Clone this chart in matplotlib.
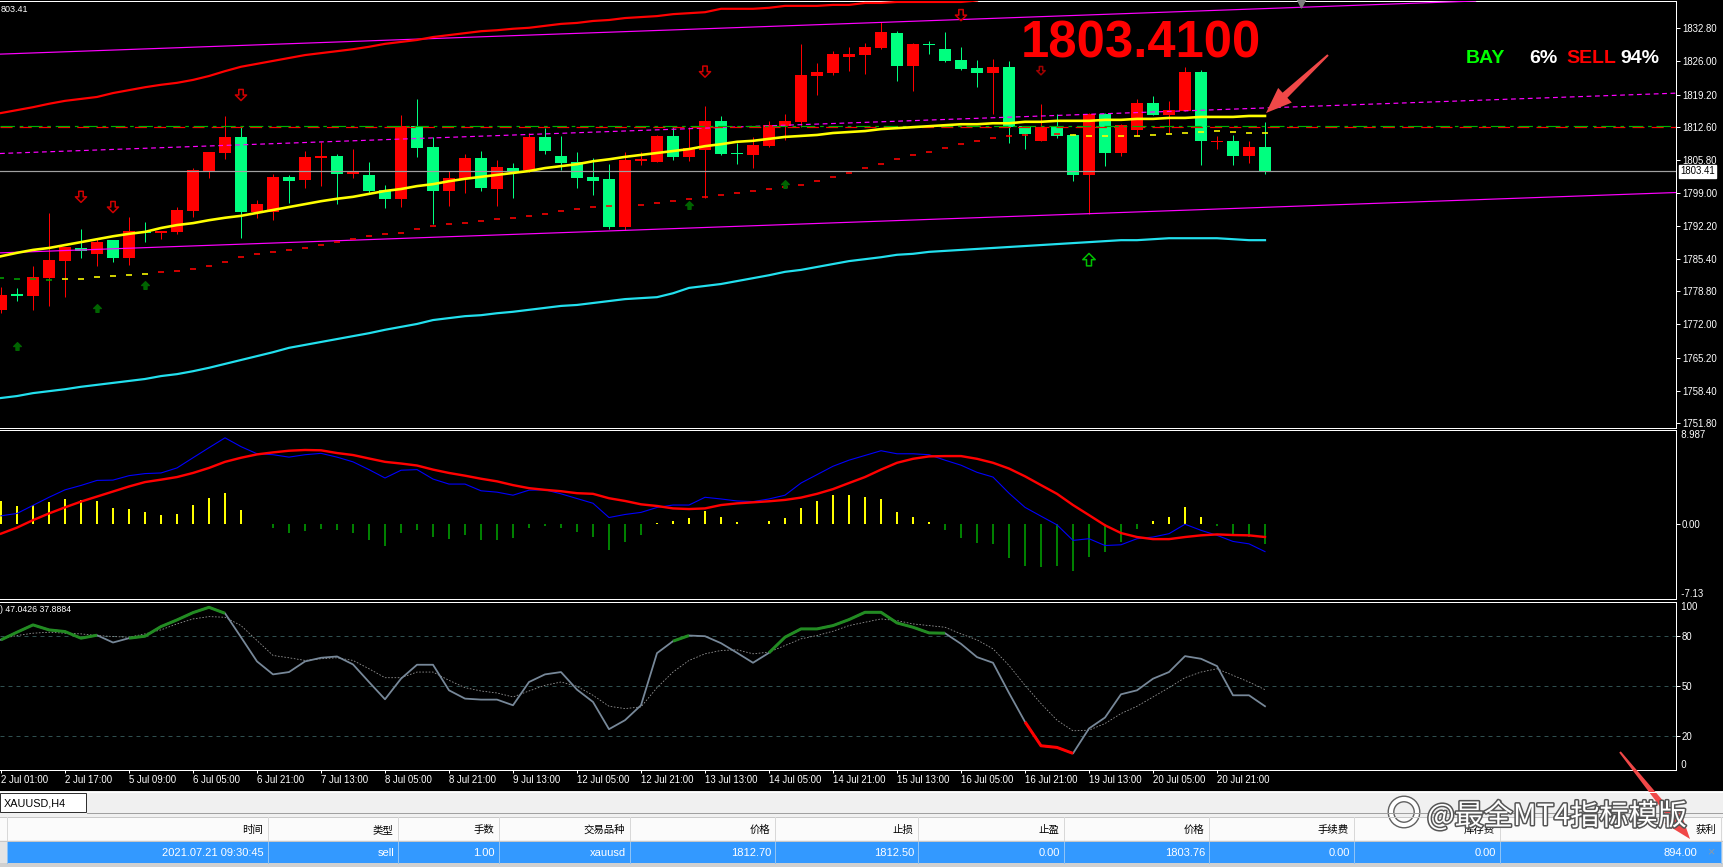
import matplotlib
matplotlib.use('Agg')
import matplotlib.pyplot as plt
import numpy as np
from matplotlib.path import Path
from matplotlib.patches import Rectangle, Polygon, Circle
import matplotlib.patheffects as pe
import matplotlib.transforms as mtrans

plt.rcParams['font.family'] = ['Liberation Sans', 'Noto Sans CJK SC', 'DejaVu Sans']

# ---------------- DATA ----------------
opens = [1775.0, 1778.1, 1777.9, 1781.6, 1785.0, 1787.6, 1786.5, 1789.3, 1785.7, 1791.0,
         1790.8, 1791.0, 1795.3, 1803.5, 1807.2, 1810.5, 1795.1, 1795.1, 1802.3, 1801.7,
         1806.2, 1806.6, 1802.9, 1802.7, 1799.6, 1797.7, 1812.7, 1808.4, 1799.4, 1801.9,
         1806.1, 1799.8, 1804.2, 1803.7, 1810.5, 1806.6, 1805.3, 1802.3, 1801.8, 1792.1,
         1805.6, 1805.4, 1810.7, 1806.4, 1807.9, 1813.7, 1807.2, 1806.8, 1808.6, 1812.8,
         1813.6, 1823.0, 1823.6, 1826.9, 1827.3, 1828.7, 1831.8, 1825.1, 1829.6, 1828.5,
         1826.2, 1824.6, 1823.6, 1824.8, 1812.7, 1809.6, 1812.5, 1810.9, 1802.7, 1815.2,
         1807.2, 1811.9, 1817.4, 1815.0, 1815.8, 1823.8, 1809.6, 1809.6, 1806.6, 1808.4]
highs = [1779.7, 1779.5, 1784.0, 1794.8, 1787.8, 1791.6, 1789.7, 1789.3, 1794.0, 1793.0,
         1791.2, 1796.1, 1804.1, 1807.4, 1814.8, 1812.6, 1797.5, 1802.9, 1802.7, 1807.6,
         1809.5, 1807.0, 1808.0, 1805.3, 1800.6, 1815.0, 1818.2, 1810.4, 1803.5, 1807.0,
         1807.6, 1805.7, 1805.1, 1811.2, 1812.4, 1810.7, 1807.4, 1806.1, 1804.9, 1807.4,
         1807.4, 1810.9, 1812.6, 1812.6, 1816.8, 1814.8, 1809.3, 1810.4, 1813.7, 1815.2,
         1829.5, 1825.6, 1828.1, 1828.9, 1829.7, 1834.0, 1832.2, 1829.7, 1830.1, 1832.0,
         1828.9, 1826.2, 1826.4, 1826.0, 1812.7, 1817.2, 1815.2, 1811.1, 1815.4, 1815.4,
         1813.1, 1818.2, 1818.9, 1817.8, 1824.8, 1824.2, 1810.7, 1810.9, 1809.6, 1813.5]
lows = [1774.4, 1776.9, 1775.0, 1775.7, 1777.7, 1785.7, 1784.1, 1784.9, 1784.2, 1788.9,
        1789.6, 1790.6, 1794.1, 1802.1, 1805.9, 1789.8, 1793.9, 1793.5, 1797.0, 1800.1,
        1800.5, 1796.8, 1802.1, 1798.9, 1796.0, 1796.2, 1806.4, 1792.6, 1796.3, 1799.0,
        1799.4, 1796.3, 1798.0, 1803.3, 1806.9, 1803.8, 1800.0, 1798.6, 1791.6, 1791.4,
        1804.7, 1805.4, 1805.7, 1805.6, 1798.0, 1806.8, 1804.9, 1804.1, 1808.4, 1809.8,
        1812.6, 1819.1, 1823.2, 1824.0, 1823.4, 1828.5, 1821.9, 1819.9, 1827.5, 1825.8,
        1824.2, 1820.7, 1815.2, 1809.2, 1808.0, 1809.6, 1810.2, 1801.4, 1794.7, 1804.5,
        1806.6, 1810.7, 1815.0, 1811.3, 1815.8, 1804.7, 1808.0, 1804.7, 1805.1, 1802.9]
closes = [1778.1, 1778.0, 1781.8, 1785.2, 1787.8, 1787.1, 1789.0, 1785.7, 1791.2, 1790.7,
          1791.2, 1795.5, 1803.7, 1807.4, 1810.5, 1795.1, 1796.7, 1802.3, 1801.5, 1806.4,
          1806.6, 1802.9, 1803.3, 1799.4, 1797.8, 1812.7, 1808.3, 1799.4, 1802.0, 1806.1,
          1800.1, 1804.3, 1803.5, 1810.5, 1807.6, 1805.2, 1802.1, 1801.5, 1792.1, 1805.8,
          1805.9, 1810.7, 1806.4, 1808.2, 1813.7, 1807.0, 1807.1, 1808.8, 1812.9, 1813.7,
          1823.2, 1823.8, 1827.5, 1827.5, 1828.9, 1832.0, 1825.1, 1829.5, 1829.5, 1826.0,
          1824.4, 1823.6, 1824.8, 1812.5, 1811.1, 1812.5, 1810.7, 1802.7, 1815.2, 1807.2,
          1812.9, 1817.4, 1815.0, 1816.0, 1823.8, 1809.6, 1809.7, 1806.6, 1808.4, 1803.41]

# upper red band (bars 0..61)
red_band = [1815.4, 1816.0, 1816.6, 1817.3, 1817.9, 1818.3, 1818.7, 1819.5, 1820.1, 1820.7,
            1821.2, 1821.6, 1822.2, 1823.0, 1824.0, 1824.9, 1825.5, 1826.1, 1826.7, 1827.3,
            1827.7, 1828.1, 1828.5, 1829.0, 1829.6, 1830.0, 1830.4, 1831.0, 1831.4, 1831.8,
            1832.2, 1832.4, 1832.7, 1832.9, 1833.3, 1833.7, 1833.9, 1834.3, 1834.5, 1834.9,
            1835.1, 1835.3, 1835.7, 1835.9, 1836.1, 1836.8, 1836.8, 1836.8, 1837.0, 1837.4,
            1837.4, 1837.4, 1837.6, 1837.6, 1838.0, 1838.0, 1838.2, 1838.2, 1838.2, 1838.2,
            1838.2, 1838.5]
# yellow moving average
yellow_ma = [1786.0, 1786.7, 1787.3, 1787.7, 1788.3, 1788.9, 1789.5, 1790.1, 1790.6, 1791.0,
             1791.8, 1792.4, 1792.8, 1793.4, 1793.9, 1794.3, 1794.9, 1795.5, 1796.1, 1796.7,
             1797.3, 1797.8, 1798.2, 1798.8, 1799.4, 1799.8, 1800.4, 1800.8, 1801.4, 1801.9,
             1802.3, 1802.7, 1803.1, 1803.5, 1804.1, 1804.5, 1804.9, 1805.5, 1805.9, 1806.4,
             1806.8, 1807.2, 1807.6, 1808.0, 1808.6, 1809.0, 1809.5, 1809.7, 1810.1, 1810.5,
             1810.7, 1810.9, 1811.3, 1811.5, 1811.7, 1812.1, 1812.3, 1812.5, 1812.7, 1812.9,
             1813.1, 1813.1, 1813.3, 1813.3, 1813.6, 1813.6, 1813.8, 1813.8, 1813.8, 1814.0,
             1814.0, 1814.2, 1814.2, 1814.4, 1814.4, 1814.6, 1814.6, 1814.6, 1814.8, 1814.8]
# lower cyan band
cyan_band = [1756.9, 1757.3, 1757.9, 1758.3, 1758.7, 1759.2, 1759.6, 1760.0, 1760.4, 1760.8,
             1761.4, 1761.8, 1762.4, 1763.1, 1763.9, 1764.7, 1765.5, 1766.3, 1767.2, 1767.8,
             1768.4, 1769.0, 1769.6, 1770.2, 1770.9, 1771.5, 1772.1, 1772.9, 1773.3, 1773.7,
             1773.9, 1774.3, 1774.6, 1775.0, 1775.4, 1775.8, 1776.0, 1776.4, 1776.8, 1777.2,
             1777.4, 1777.6, 1778.4, 1779.5, 1779.9, 1780.3, 1780.9, 1781.5, 1782.1, 1782.8,
             1783.2, 1783.8, 1784.4, 1785.0, 1785.4, 1785.8, 1786.3, 1786.5, 1786.9, 1787.1,
             1787.3, 1787.5, 1787.7, 1787.9, 1788.1, 1788.3, 1788.5, 1788.7, 1788.9, 1789.1,
             1789.3, 1789.3, 1789.5, 1789.7, 1789.7, 1789.7, 1789.7, 1789.5, 1789.3, 1789.3]
# trailing-stop dashes
trail = [1781.5, 1781.3, 1781.3, 1781.1, 1781.3, 1781.3, 1781.7, 1781.9, 1782.1, 1782.4,
         1782.8, 1783.0, 1783.4, 1784.0, 1784.8, 1785.8, 1786.5, 1786.9, 1787.3, 1787.7,
         1788.3, 1788.9, 1789.5, 1790.1, 1790.6, 1790.8, 1791.6, 1792.2, 1792.6, 1792.8,
         1793.2, 1793.6, 1793.9, 1794.3, 1794.7, 1795.3, 1795.7, 1796.1, 1796.3, 1796.4,
         1796.5, 1796.9, 1797.3, 1797.7, 1798.2, 1798.6, 1799.0, 1799.4, 1799.8, 1800.2,
         1800.6, 1801.4, 1802.3, 1803.1, 1804.1, 1804.9, 1806.0, 1806.8, 1807.4, 1808.2,
         1809.0, 1809.7, 1810.3, 1810.7, 1810.9, 1811.1, 1811.1, 1810.9, 1810.7, 1810.7,
         1810.7, 1810.7, 1810.9, 1811.1, 1811.3, 1811.5, 1811.7, 1811.5, 1811.3, 1811.3]
trail_state = ['g'] * 4 + ['y'] * 6 + ['r'] * 57 + ['y'] * 13

# regression channel anchors (bar, price)
channel_bars = [0, 104]
channel_upper = [1827.5, 1839.8]
channel_mid = [1807.1, 1819.4]
channel_lower = [1786.7, 1799.0]

bid_price = 1803.41
order_open = 1812.70
order_sl = 1812.50

down_arrow_bars = [5, 7, 15, 44, 60, 65]
down_arrow_prices = [1798.2, 1796.1, 1819.1, 1823.9, 1835.5, 1824.1]
up_arrow_bars = [1, 6, 9, 43, 49]
up_arrow_prices = [1767.6, 1775.4, 1780.0, 1796.5, 1800.8]
big_up_bar = [68]
big_up_price = [1785.3]

price_ticks = [1832.80, 1826.00, 1819.20, 1812.60, 1805.80, 1799.00, 1792.20,
               1785.40, 1778.80, 1772.00, 1765.20, 1758.40, 1751.80]

macd_hist = [2.22, 1.74, 1.83, 2.12, 2.41, 2.32, 2.22, 1.54, 1.45, 1.16,
             0.87, 0.97, 1.83, 2.51, 2.99, 1.35, 0.06, -0.35, -0.84, -0.64,
             -0.48, -0.58, -0.84, -1.51, -2.09, -0.84, -0.58, -1.22, -1.41, -1.06,
             -1.51, -1.51, -1.32, -0.35, -0.16, -0.35, -0.74, -1.22, -2.48, -1.71,
             -1.03, 0.10, 0.29, 0.58, 1.25, 0.68, 0.19, 0.06, 0.29, 0.58,
             1.54, 2.22, 2.80, 2.80, 2.61, 2.41, 1.16, 0.68, 0.19, -0.55,
             -1.32, -1.80, -1.90, -3.25, -4.02, -4.12, -4.02, -4.50, -3.15, -2.67,
             -1.71, -0.45, 0.29, 0.68, 1.64, 0.68, -0.16, -1.13, -1.22, -1.90]
macd_main = [0.80, 1.03, 1.80, 2.57, 3.28, 3.70, 4.18, 4.21, 4.63, 4.83,
             4.89, 5.37, 6.34, 7.30, 8.24, 7.40, 6.72, 6.63, 6.40, 6.63,
             6.76, 6.40, 5.95, 5.21, 4.41, 5.15, 5.21, 4.31, 3.83, 3.83,
             3.19, 3.06, 2.77, 3.25, 3.28, 2.90, 2.45, 2.00, 0.64, 0.93,
             1.13, 1.60, 1.83, 1.83, 2.57, 2.41, 2.22, 2.16, 2.41, 2.77,
             3.93, 4.73, 5.53, 6.11, 6.56, 7.01, 6.72, 6.72, 6.63, 6.11,
             5.63, 4.95, 4.50, 2.96, 1.61, 0.77, -0.06, -1.54, -1.38, -2.03,
             -1.96, -1.38, -1.22, -0.90, 0.00, -0.58, -1.06, -1.64, -1.87, -2.61]
macd_signal = [-0.90, -0.32, 0.39, 1.03, 1.61, 2.16, 2.64, 3.12, 3.60, 4.02,
               4.25, 4.50, 4.89, 5.37, 5.95, 6.34, 6.66, 6.85, 7.01, 7.08,
               7.05, 6.79, 6.60, 6.27, 5.95, 5.79, 5.60, 5.21, 4.89, 4.63,
               4.34, 4.09, 3.73, 3.44, 3.28, 3.15, 2.96, 2.90, 2.48, 2.22,
               1.90, 1.74, 1.51, 1.45, 1.51, 1.83, 1.99, 2.09, 2.19, 2.32,
               2.54, 2.90, 3.35, 3.93, 4.50, 5.21, 5.86, 6.24, 6.47, 6.50,
               6.50, 6.24, 5.86, 5.31, 4.57, 3.73, 2.90, 1.83, 0.87, -0.10,
               -0.84, -1.22, -1.42, -1.42, -1.22, -1.06, -0.97, -1.03, -1.06, -1.22]
macd_top, macd_bottom = 8.987, -7.13

stoch_main = [77.8, 82.4, 86.8, 83.8, 82.8, 78.8, 80.6, 76.2, 78.8, 80.0,
              85.8, 89.8, 94.2, 97.4, 93.8, 79.4, 64.8, 57.0, 58.4, 64.8,
              67.0, 67.8, 63.0, 52.4, 42.0, 54.4, 62.8, 62.8, 47.4, 42.4,
              41.8, 41.8, 38.4, 52.4, 57.0, 58.4, 47.8, 40.4, 24.0, 29.4,
              38.4, 69.8, 77.0, 80.4, 80.0, 75.8, 70.0, 64.0, 70.0, 79.4,
              84.4, 84.4, 86.4, 90.0, 94.4, 94.4, 88.0, 85.4, 82.0, 81.8,
              75.4, 67.4, 64.0, 45.8, 28.4, 14.0, 13.0, 9.4, 24.4, 31.0,
              45.0, 47.4, 54.4, 58.4, 68.0, 66.4, 62.0, 44.4, 44.4, 37.8]
stoch_signal = [78.4, 80.4, 81.8, 82.4, 81.8, 81.4, 80.4, 79.8, 79.4, 81.4,
                83.8, 87.4, 90.4, 91.8, 91.4, 86.4, 77.4, 68.4, 67.0, 65.4,
                66.4, 67.0, 65.4, 60.4, 55.0, 55.0, 58.4, 58.4, 53.4, 49.0,
                47.0, 45.8, 43.4, 47.0, 50.4, 52.4, 49.8, 44.4, 37.8, 36.4,
                37.4, 49.0, 58.4, 65.4, 69.4, 71.4, 71.8, 69.4, 70.4, 74.4,
                78.4, 80.4, 83.0, 86.4, 88.4, 90.4, 89.4, 87.4, 86.4, 85.4,
                81.4, 77.8, 72.4, 62.4, 50.4, 39.4, 29.4, 23.0, 23.4, 27.4,
                33.4, 37.8, 43.4, 49.0, 55.0, 58.4, 60.4, 56.4, 52.4, 47.8]
stoch_green_spans = [(0, 6), (8, 14), (42, 43), (48, 59)]
stoch_red_spans = [(64, 67)]
stoch_levels = [80, 50, 20]
stoch_header = ") 47.0426 37.8884"

x_tick_bars = list(range(0, 80, 4))
x_tick_labels = ["2 Jul 01:00", "2 Jul 17:00", "5 Jul 09:00", "6 Jul 05:00", "6 Jul 21:00",
                 "7 Jul 13:00", "8 Jul 05:00", "8 Jul 21:00", "9 Jul 13:00", "12 Jul 05:00",
                 "12 Jul 21:00", "13 Jul 13:00", "14 Jul 05:00", "14 Jul 21:00", "15 Jul 13:00",
                 "16 Jul 05:00", "16 Jul 21:00", "19 Jul 13:00", "20 Jul 05:00", "20 Jul 21:00"]

table_headers = ["时间", "类型", "手数", "交易品种", "价格", "止损", "止盈", "价格", "手续费", "库存费", "获利"]
table_row = ["2021.07.21 09:30:45", "sell", "1.00", "xauusd", "1812.70", "1812.50",
             "0.00", "1803.76", "0.00", "0.00", "894.00"]

# ---------------- FIGURE ----------------
W, H = 1724, 867
PX = 0.72
fig = plt.figure(figsize=(W / 100, H / 100), dpi=100, facecolor='black')


def rect(x0, y0, x1, y1):
    return [x0 / W, 1 - y1 / H, (x1 - x0) / W, (y1 - y0) / H]


XL = (-1 / 16, 1675 / 16)
idx = np.arange(len(opens))
o = np.array(opens); h = np.array(highs); l = np.array(lows); c = np.array(closes)


def frame(a):
    a.set_facecolor('black')
    for s in ['top', 'bottom', 'right']:
        a.spines[s].set_color('white')
        a.spines[s].set_linewidth(PX)
    a.spines['left'].set_visible(False)
    a.set_xlim(XL)
    a.tick_params(axis='x', bottom=False, labelbottom=False)
    a.tick_params(axis='y', left=False, labelleft=False, right=True, labelright=True,
                  colors='white', length=4 * PX, width=PX, pad=2 * PX, labelsize=6.9)


# ----- main price panel -----
ax = fig.add_axes(rect(0, 1, 1676, 428))
frame(ax)
ax.set_ylim(1750.74, 1838.40)
ax.set_yticks(price_ticks)
ax.set_yticklabels([f"{v:.2f}" for v in price_ticks])

bull = c >= o
ccol = np.where(bull, '#FF0000', '#00FF7F')
ax.vlines(idx, l, h, colors=ccol, lw=PX, zorder=3)
bh = np.abs(c - o)
blo = np.where(bh < 0.22, (o + c) / 2 - 0.11, np.minimum(o, c))
ax.bar(idx, np.maximum(bh, 0.22), bottom=blo, width=0.69, color=ccol, linewidth=0, zorder=3)

ax.plot(np.arange(len(red_band)), red_band, color='#FF0000', lw=2.2 * PX, zorder=5)
ax.plot(idx, yellow_ma, color='#FFFF00', lw=2.6 * PX, zorder=5)
ax.plot(idx, cyan_band, color='#22E0EE', lw=2.2 * PX, zorder=5)
ax.axline((channel_bars[0], channel_upper[0]), (channel_bars[1], channel_upper[1]),
          color='#FF00FF', lw=1.2 * PX, zorder=4)
ax.axline((channel_bars[0], channel_lower[0]), (channel_bars[1], channel_lower[1]),
          color='#FF00FF', lw=1.2 * PX, zorder=4)
ax.axline((channel_bars[0], channel_mid[0]), (channel_bars[1], channel_mid[1]),
          color='#FF00FF', lw=1.2 * PX, ls=(0, (4, 3)), zorder=4)
ax.axhline(bid_price, color='#A0A0A0', lw=1.2 * PX, zorder=4)
ax.axhline(order_sl, color='#FF0000', lw=1.2 * PX, ls=(0, (10, 6)), zorder=4)
ax.axhline(order_open, color='#00B000', lw=1.2 * PX, ls=(0, (12, 4, 3, 4)), zorder=4)

tcol = {'g': '#00A000', 'y': '#FFFF00', 'r': '#FF0000'}
ax.hlines(trail, idx - 0.16, idx + 0.16, colors=[tcol[s] for s in trail_state],
          lw=1.6 * PX, zorder=5)

down_path = Path([(-0.2, 0.5), (0.2, 0.5), (0.2, 0.0), (0.5, 0.0), (0.0, -0.5),
                  (-0.5, 0.0), (-0.2, 0.0), (-0.2, 0.5)], closed=True)
up_path = Path([(-0.2, -0.5), (0.2, -0.5), (0.2, 0.0), (0.5, 0.0), (0.0, 0.5),
                (-0.5, 0.0), (-0.2, 0.0), (-0.2, -0.5)], closed=True)
ax.scatter(down_arrow_bars, down_arrow_prices, s=[64, 64, 64, 64, 64, 36], marker=down_path,
           facecolors='none', edgecolors=['#D00000'] * 5 + ['#A00000'], linewidths=1.1, zorder=6)
ax.scatter(up_arrow_bars, up_arrow_prices, s=30, marker=up_path, color='#006400', zorder=6)
ax.scatter(big_up_bar, big_up_price, s=80, marker=up_path, facecolors='none',
           edgecolors='#00C000', linewidths=1.1, zorder=6)
ax.scatter([81.25], [1838.0], s=40, marker='v', color='#808080', zorder=7, clip_on=False)

ax.annotate(f"{bid_price:.2f}", xy=(1, bid_price), xycoords=('axes fraction', 'data'),
            xytext=(4 * PX, 0), textcoords='offset points', ha='left', va='center',
            fontsize=6.9, color='black',
            bbox=dict(boxstyle='square,pad=0.15', fc='white', ec='white'), zorder=10,
            annotation_clip=False)

# ----- MACD panel -----
ax2 = fig.add_axes(rect(0, 430, 1676, 599))
frame(ax2)
ax2.set_ylim(macd_bottom, macd_top)
hist = np.array(macd_hist)
ax2.bar(idx, hist, width=0.13, color=np.where(hist >= 0, '#FFFF00', '#008000'), linewidth=0)
ax2.plot(idx, macd_main, color='#0000FF', lw=1.1 * PX)
ax2.plot(idx, macd_signal, color='#FF0000', lw=2.4 * PX)
ax2.set_yticks([0])
ax2.set_yticklabels(['0.00'])
bt2 = mtrans.blended_transform_factory(ax2.transAxes, ax2.transData)
ax2.text(1.0, macd_top, '  8.987', transform=bt2, ha='left', va='top', color='white', fontsize=6.9)
ax2.text(1.0, macd_bottom, '  -7.13', transform=bt2, ha='left', va='bottom', color='white', fontsize=6.9)

# ----- Stochastic panel -----
ax3 = fig.add_axes(rect(0, 602, 1676, 770))
frame(ax3)
ax3.set_ylim(-0.6, 100.6)
for lv in stoch_levels:
    ax3.axhline(lv, color='#2F4F4F', lw=PX, ls=(0, (4, 4)))
ax3.plot(idx, stoch_signal, color='#9A9A9A', lw=0.8 * PX, ls=(0, (2, 2)))
ax3.plot(idx, stoch_main, color='#778899', lw=1.8 * PX)
sm = np.array(stoch_main)
for s0, s1 in stoch_green_spans:
    ax3.plot(idx[s0:s1 + 1], sm[s0:s1 + 1], color='#228B22', lw=3 * PX, solid_capstyle='butt')
for s0, s1 in stoch_red_spans:
    ax3.plot(idx[s0:s1 + 1], sm[s0:s1 + 1], color='#FF0000', lw=3 * PX, solid_capstyle='butt')
ax3.set_yticks(stoch_levels)
ax3.set_yticklabels([str(v) for v in stoch_levels])
bt3 = mtrans.blended_transform_factory(ax3.transAxes, ax3.transData)
ax3.text(1.0, 100.6, '  100', transform=bt3, ha='left', va='top', color='white', fontsize=6.9)
ax3.text(1.0, -0.6, '  0', transform=bt3, ha='left', va='bottom', color='white', fontsize=6.9)
ax3.text(0.0, 0.985, stoch_header, transform=ax3.transAxes, ha='left', va='top',
         color='white', fontsize=6.3)
ax3.set_xticks(x_tick_bars)
ax3.set_xticklabels(x_tick_labels, ha='left')
ax3.tick_params(axis='x', bottom=True, labelbottom=True, colors='white', length=3 * PX,
                width=PX, pad=1.5, labelsize=6.9)

# ----- overlay (texts, table, annotations) -----
ov = fig.add_axes([0, 0, 1, 1], zorder=20)
ov.set_xlim(0, W)
ov.set_ylim(H, 0)
ov.axis('off')
ov.patch.set_alpha(0)

ov.text(1, 9, "803.41", ha='left', va='center', color='white', fontsize=6.5)
ov.text(1021, 58, "1803.4100", ha='left', va='baseline', color='#FF0000',
        fontsize=36.5, fontweight='bold')
ov.text(1466, 63, "BAY", ha='left', va='baseline', color='#00FF00', fontsize=14, fontweight='bold')
ov.text(1529, 63, "6%", ha='left', va='baseline', color='white', fontsize=14, fontweight='bold')
ov.text(1566, 63, "SELL", ha='left', va='baseline', color='#FF0000', fontsize=14, fontweight='bold')
ov.text(1620, 63, "94%", ha='left', va='baseline', color='white', fontsize=14, fontweight='bold')

# bottom terminal panel
ov.add_patch(Rectangle((0, 791), W, H - 791, fc='#F0F0F0', ec='none'))
ov.plot([0, W], [791.5, 791.5], color='white', lw=PX)
ov.add_patch(Rectangle((0.5, 793), 86, 19, fc='white', ec='#303030', lw=PX))
ov.text(4, 803, "XAUUSD,H4", ha='left', va='center', color='black', fontsize=7.8)
ov.plot([87, W], [812.5, 812.5], color='#A0A0A0', lw=PX)
ov.add_patch(Rectangle((0, 817), W, 23, fc='#FBFBFB', ec='none'))
ov.plot([0, W], [817, 817], color='#C8C8C8', lw=PX)
ov.plot([0, W], [840.5, 840.5], color='#C8C8C8', lw=PX)
ov.add_patch(Rectangle((0, 841), W, 22, fc='#E4E4E4', ec='none'))
ov.add_patch(Rectangle((7, 842), 1714, 21, fc='#3399FF', ec='none'))
ov.add_patch(Rectangle((0, 863), W, 4, fc='#D0D0D0', ec='none'))
seps = [7, 268, 398, 499, 630, 775, 918, 1064, 1209, 1354, 1500, 1721]
for sx in seps:
    ov.plot([sx, sx], [817, 840], color='#D8D8D8', lw=PX)
    ov.plot([sx, sx], [842, 863], color='#8FC3F5', lw=PX)
for k, (hd, val) in enumerate(zip(table_headers, table_row)):
    right = seps[k + 1]
    ov.text(right - 5, 830, hd, ha='right', va='center', color='black', fontsize=7.5,
            family=['Noto Sans CJK SC'])
    vr = right - 4 if k < len(table_row) - 1 else 1697
    ov.text(vr, 852.5, val, ha='right', va='center', color='white', fontsize=8)
ov.text(1711, 852.5, "×", ha='center', va='center', color='#8A9AAA', fontsize=9)

# watermark
ov.add_patch(Circle((1404, 812), 13, fc='none', ec='white', lw=3,
                    path_effects=[pe.withStroke(linewidth=5, foreground='#606060')]))
ov.text(1427, 825, "@最全MT4指标模版", ha='left', va='baseline', color='white', fontsize=21,
        family=['Noto Sans CJK SC'],
        path_effects=[pe.withStroke(linewidth=2.2, foreground='#555555')])


def arrow_poly(tail, tip, w_tail, w_neck, head_w, head_len):
    t = np.array(tail, float); p = np.array(tip, float)
    d = p - t; L = np.hypot(*d); u = d / L; n = np.array([-u[1], u[0]])
    neck = p - u * head_len
    pts = [t + n * w_tail / 2, neck + n * w_neck / 2, neck + n * head_w / 2, p,
           neck - n * head_w / 2, neck - n * w_neck / 2, t - n * w_tail / 2]
    return Polygon(pts, closed=True, fc='#F04848', ec='none')


ov.add_patch(arrow_poly((1328, 55), (1266, 113), 2, 7, 20, 26))
ov.add_patch(arrow_poly((1620, 752), (1690, 839), 2, 7, 20, 28))

fig.savefig('out.png', dpi=100, facecolor=fig.get_facecolor())
